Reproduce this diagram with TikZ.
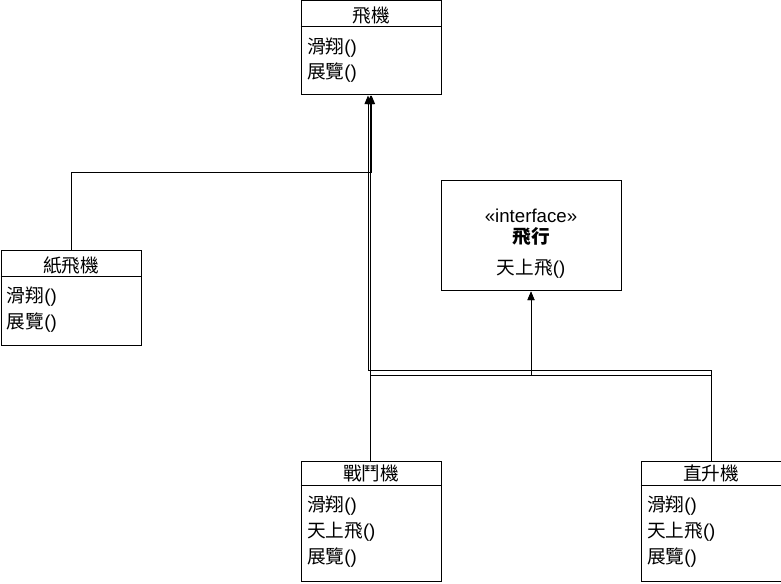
\documentclass[tikz,border=0pt]{standalone}
\usepackage{fontspec}
\setmainfont{Liberation Sans}
\newfontfamily\cjk{Noto Sans CJK TC}
\usetikzlibrary{arrows.meta}
\begin{document}
\begin{tikzpicture}[x=0.75pt,y=-0.75pt,line width=0.75pt,
  box/.style={draw,rectangle,inner sep=0pt,minimum width=105pt,anchor=north west},
  txt/.style={font=\fontsize{14pt}{16pt}\selectfont,inner sep=0pt},
  hdr/.style={txt,anchor=center},
  item/.style={txt,anchor=west},
  conn/.style={draw,-{Triangle[length=6.5pt,width=5.25pt]}}]
\useasboundingbox (0,0) rectangle (781,584);
% 飛機
\node[box,minimum height=70.5pt] (plane) at (300.5,0.5) {};
\draw ([yshift=-19.5pt]plane.north west) -- ([yshift=-19.5pt]plane.north east);
\node[hdr] (planeT) at ([yshift=-11pt]plane.north) {\cjk 飛機};
\node[item] (planeA) at ([xshift=4.5pt,yshift=-35pt]plane.north west) {{\cjk 滑翔}()};
\node[item] (planeB) at ([xshift=4.5pt,yshift=-54pt]plane.north west) {{\cjk 展覽}()};
% 紙飛機
\node[box,minimum height=70.5pt] (paper) at (0.5,250.5) {};
\draw ([yshift=-19.5pt]paper.north west) -- ([yshift=-19.5pt]paper.north east);
\node[hdr] (paperT) at ([yshift=-11pt]paper.north) {\cjk 紙飛機};
\node[item] (paperA) at ([xshift=4.5pt,yshift=-34.5pt]paper.north west) {{\cjk 滑翔}()};
\node[item] (paperB) at ([xshift=4.5pt,yshift=-54pt]paper.north west) {{\cjk 展覽}()};
% interface 飛行
\node[box,minimum width=135pt,minimum height=82.5pt] (iface) at (440.5,180.5) {};
\node[hdr] (ifaceS) at ([yshift=-26.6pt]iface.north) {«interface»};
\node[hdr] (ifaceT) at ([yshift=-42pt]iface.north) {\cjk\bfseries 飛行};
\node[hdr] (ifaceA) at ([yshift=-66.4pt]iface.north) {{\cjk 天上飛}()};
% 戰鬥機
\node[box,minimum height=90pt] (fighter) at (300.5,460.5) {};
\draw ([yshift=-19pt]fighter.north west) -- ([yshift=-19pt]fighter.north east);
\node[hdr] (fighterT) at ([yshift=-10pt]fighter.north) {\cjk 戰鬥機};
\node[item] (fighterA) at ([xshift=4.5pt,yshift=-33.75pt]fighter.north west) {{\cjk 滑翔}()};
\node[item] (fighterB) at ([xshift=4.5pt,yshift=-53.5pt]fighter.north west) {{\cjk 天上飛}()};
\node[item] (fighterC) at ([xshift=4.5pt,yshift=-73pt]fighter.north west) {{\cjk 展覽}()};
% 直升機
\node[box,minimum height=90pt] (heli) at (640.5,460.5) {};
\draw ([yshift=-19pt]heli.north west) -- ([yshift=-19pt]heli.north east);
\node[hdr] (heliT) at ([yshift=-10pt]heli.north) {\cjk 直升機};
\node[item] (heliA) at ([xshift=4.5pt,yshift=-33.75pt]heli.north west) {{\cjk 滑翔}()};
\node[item] (heliB) at ([xshift=4.5pt,yshift=-53.5pt]heli.north west) {{\cjk 天上飛}()};
\node[item] (heliC) at ([xshift=4.5pt,yshift=-73pt]heli.north west) {{\cjk 展覽}()};
% connectors
\draw[conn] (paper.north) -- ++(0,-78) -| ([xshift=0.4pt]plane.south);
\draw[conn] ([xshift=-0.4pt]fighter.north) -- ([xshift=-0.4pt]plane.south);
\draw[conn] ([xshift=-0.4pt]fighter.north) -- ++(0,-85) -| (iface.south);
\draw[conn] (heli.north) -- ++(0,-90) -| ([xshift=-2.25pt]plane.south);
\draw[conn] (heli.north) -- ++(0,-85) -| (iface.south);
\end{tikzpicture}
\end{document}
